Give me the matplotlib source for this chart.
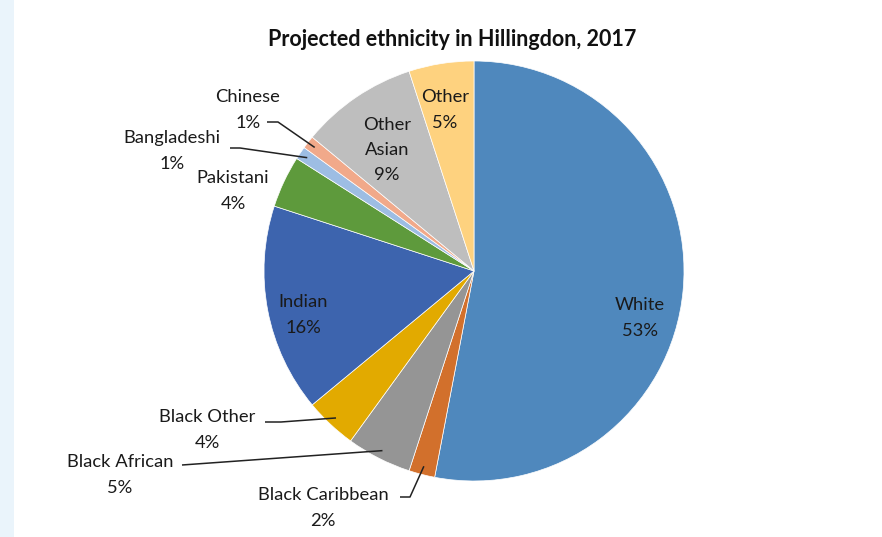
import numpy as np
import matplotlib
matplotlib.use('Agg')
import matplotlib.pyplot as plt
from matplotlib.patches import Rectangle

# data
groups = ['White', 'Black Caribbean', 'Black African', 'Black Other', 'Indian',
          'Pakistani', 'Bangladeshi', 'Chinese', 'Other Asian', 'Other']
shares = [53, 2, 5, 4, 16, 4, 1, 1, 9, 5]
colors = ['#4F88BD', '#D2702C', '#959595', '#E2AA00', '#3D64AE',
          '#5E9A3C', '#9DBDE3', '#F1A98A', '#BEBEBE', '#FED27F']

plt.rcParams['font.family'] = ['Lato', 'DejaVu Sans']

W, H = 882, 537
fig = plt.figure(figsize=(W / 100, H / 100), dpi=100)
ax = fig.add_axes([0, 0, 1, 1])

# light side strip
ax.add_patch(Rectangle((0, 0), 14, H, facecolor='#EAF4FB', edgecolor='none', zorder=0))

cx, cy, R = 474, 271, 210
# y axis is inverted, so counterclock=True draws clockwise on screen
wedges, _ = ax.pie(shares, colors=colors, startangle=-90, counterclock=True,
                   center=(cx, cy), radius=R, frame=True,
                   wedgeprops=dict(edgecolor='white', linewidth=0.5))
ax.set_xlim(0, W)
ax.set_ylim(H, 0)
ax.set_aspect('equal')
ax.axis('off')

ax.text(452, 40, 'Projected ethnicity in Hillingdon, 2017', ha='center', va='center',
        fontsize=15.5, fontweight='bold', color='#111111')

fs = 13.2
def lab(x, y, text):
    ax.text(x, y + 2, text, ha='center', va='center', fontsize=fs,
            color='#1a1a1a', linespacing=1.72)

def edge_pt(i, frac=0.96):
    w = wedges[i]
    t = np.deg2rad((w.theta1 + w.theta2) / 2)
    return cx + R * frac * np.cos(t), cy + R * frac * np.sin(t)

# inside labels
lab(640, 316, f'{groups[0]}\n{shares[0]}%')
lab(303, 313, f'{groups[4]}\n{shares[4]}%')
lab(387, 148, f'Other\nAsian\n{shares[8]}%')
lab(445, 108, f'{groups[9]}\n{shares[9]}%')

# outside labels with leader lines
lab(248, 108, f'{groups[7]}\n{shares[7]}%')
lab(172, 149, f'{groups[6]}\n{shares[6]}%')
lab(233, 189, f'{groups[5]}\n{shares[5]}%')
lab(207, 428, f'{groups[3]}\n{shares[3]}%')
lab(120, 473, f'{groups[2]}\n{shares[2]}%')
lab(323, 506, f'{groups[1]}\n{shares[1]}%')

lc = '#222222'
def leader(pts, i):
    ex, ey = edge_pt(i)
    xs = [p[0] for p in pts] + [ex]
    ys = [p[1] for p in pts] + [ey]
    ax.plot(xs, ys, color=lc, lw=1.1, solid_capstyle='butt')

leader([(267, 122), (278, 122)], 7)
leader([(230, 148), (240, 148)], 6)
leader([(265, 422), (281, 422)], 3)
leader([(182, 465)], 2)
leader([(400, 497), (410, 497)], 1)

fig.savefig('out.png', dpi=100, facecolor='white')
